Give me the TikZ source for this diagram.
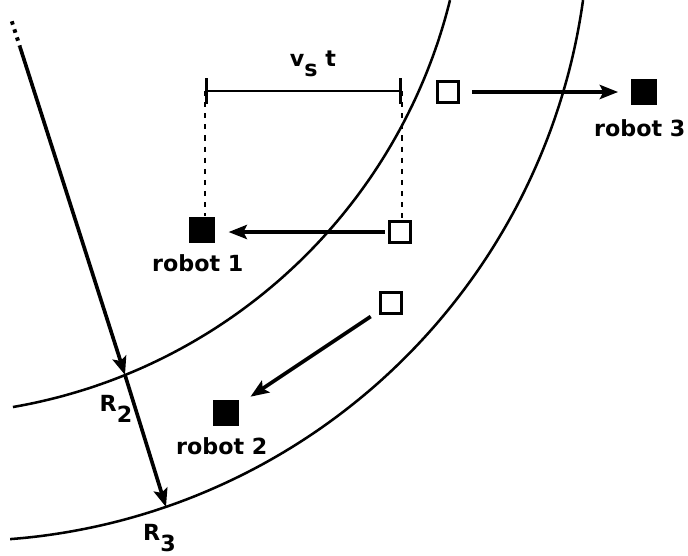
\documentclass[tikz,border=0pt]{standalone}
\usepackage{fontspec}
\setsansfont{DejaVu Sans}
\usetikzlibrary{arrows.meta, positioning}
\tikzset{
  every picture/.style={font=\sffamily\bfseries, line width=1.8pt},
  robot/.style={fill=black, minimum size=18pt, inner sep=0pt},
  ghost/.style={draw=black, line width=2.5pt, minimum size=15pt, inner sep=0pt},
  arrow/.style={-{Stealth[length=13pt, width=10pt, inset=2.5pt]}, line width=2.6pt},
  tag/.style={font=\sffamily\bfseries\fontsize{15.8}{18}\selectfont, inner sep=0pt},
  guide/.style={line width=1.7pt, dash pattern=on 3.6pt off 4.3pt},
  dots/.style={line width=2.8pt, dash pattern=on 2.5pt off 3.5pt},
}

\begin{document}
\begin{tikzpicture}[x=0.025cm, y=-0.025cm]
  \useasboundingbox (0,0) rectangle (688,555);
  % the two tracks
  \draw[domain=80.2:13.9, samples=90, smooth, variable=\a] plot ({-80+546*cos(\a)}, {-131+546*sin(\a)});
  \draw[domain=85.6:7.9, samples=90, smooth, variable=\a] plot ({-38+627*cos(\a)}, {-86+627*sin(\a)});

  \coordinate (top) at (11.8,21.3);
  \coordinate (o) at (20,47);
  \coordinate (r2) at (125,375);
  \coordinate (r3) at (166,507);
  \draw[dots] (top) -- (o);
  \draw[arrow] (o) -- (r2);
  \draw[arrow] (r2) -- (r3);
  \node[tag] (lr2) at (116,409) {R\raisebox{-0.48em}{2}};
  \node[tag] (lr3) at (159.5,538) {R\raisebox{-0.48em}{3}};

  \node[robot] (rob1) at (202,230) {};
  \node[ghost] (old1) at (400,232) {};
  \node[robot] (rob2) at (226,413) {};
  \node[ghost] (old2) at (391,303) {};
  \node[robot] (rob3) at (644,92) {};
  \node[ghost] (old3) at (448,92) {};
  \node[tag, below=7pt of rob1, xshift=-3pt] {robot 1};
  \node[tag, below=7pt of rob2, xshift=-3pt] {robot 2};
  \node[tag, below=9pt of rob3, xshift=-3pt] {robot 3};

  \draw[arrow, shorten <=2pt, shorten >=9pt] (old1.west) -- (old1.west -| rob1.east);
  \draw[arrow, shorten <=6.8pt, shorten >=9pt] (old2) -- (rob2);
  \draw[arrow, shorten <=8.5pt, shorten >=8.5pt] (old3.east) -- (rob3.west);

  \coordinate (bl) at (205,91);
  \coordinate (br) at (402,91);
  \draw[{Bar[width=18pt]}-{Bar[width=18pt]}] (bl) -- (br);
  \node[tag] (vt) at (313,64) {v\raisebox{-0.46em}{s} t};
  \draw[guide] (bl) -- (bl |- rob1.north);
  \draw[guide] (br) -- (br |- old1.north);
\end{tikzpicture}
\end{document}
